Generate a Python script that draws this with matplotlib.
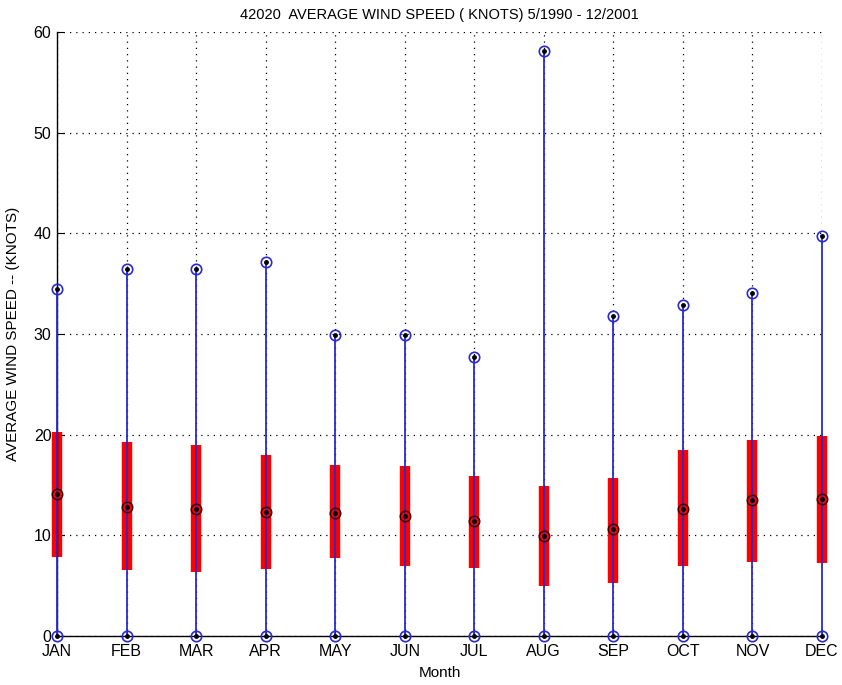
import matplotlib
matplotlib.use("Agg")
import matplotlib.pyplot as plt

plt.rcParams['font.family'] = ['Liberation Sans', 'DejaVu Sans']

# monthly wind speed statistics (knots)
months = ['JAN', 'FEB', 'MAR', 'APR', 'MAY', 'JUN',
          'JUL', 'AUG', 'SEP', 'OCT', 'NOV', 'DEC']
min_speed = [0, 0, 0, 0, 0, 0, 0, 0, 0, 0, 0, 0]
max_speed = [34.5, 36.5, 36.5, 37.2, 29.9, 29.9, 27.7, 58.1, 31.8, 32.9, 34.1, 39.7]
q_low = [7.8, 6.6, 6.4, 6.7, 7.7, 6.95, 6.8, 5.0, 5.3, 6.95, 7.4, 7.3]
q_high = [20.3, 19.3, 19.0, 18.0, 17.0, 16.85, 15.9, 14.9, 15.7, 18.45, 19.5, 19.9]
mean_speed = [14.1, 12.8, 12.6, 12.3, 12.2, 11.9, 11.4, 9.9, 10.6, 12.65, 13.5, 13.6]

x = list(range(1, len(months) + 1))

fig = plt.figure(figsize=(8.42, 6.85), dpi=100)
ax = fig.add_axes([57 / 842, 49 / 685, 765 / 842, 604 / 685])

blue = '#2a2acf'
for i in range(len(x)):
    # whisker from min to max
    ax.plot([x[i], x[i]], [min_speed[i], max_speed[i]], color=blue, lw=1.3,
            zorder=3, clip_on=False)
    # interquartile bar
    ax.plot([x[i], x[i]], [q_low[i], q_high[i]], color='#ff0000', lw=7.5,
            solid_capstyle='butt', zorder=2, clip_on=False)

# end markers
for vals in (min_speed, max_speed):
    ax.plot(x, vals, 'o', ms=7.5, mfc='none', mec=blue, mew=1.2, zorder=4, clip_on=False)
    ax.plot(x, vals, '.', ms=5, color='black', zorder=5, clip_on=False)
# mean markers
ax.plot(x, mean_speed, 'o', ms=7.5, mfc='none', mec='#3a0000', mew=1.1, zorder=4, clip_on=False)
ax.plot(x, mean_speed, '.', ms=5, color='black', zorder=5, clip_on=False)

ax.set_xlim(1, 12)
ax.set_ylim(0, 60)
ax.set_xticks(x)
ax.set_xticklabels(months)
ax.set_yticks(range(0, 61, 10))
ax.tick_params(direction='in', length=5, labelsize=11.5)
ax.tick_params(axis='x', pad=6)
ax.tick_params(axis='y', pad=4)
ax.grid(True, color='black', linestyle=(0, (1, 4)), linewidth=0.9)
for side in ('top', 'right'):
    ax.spines[side].set_visible(False)
for side in ('left', 'bottom'):
    ax.spines[side].set_linewidth(1.0)

ax.set_xlabel('Month', fontsize=11, labelpad=5)
ax.set_ylabel('AVERAGE WIND SPEED -- (KNOTS)', fontsize=11, labelpad=10)
ax.set_title('42020  AVERAGE WIND SPEED ( KNOTS) 5/1990 - 12/2001', fontsize=10.5, pad=9)

fig.savefig('out.png', dpi=100)
